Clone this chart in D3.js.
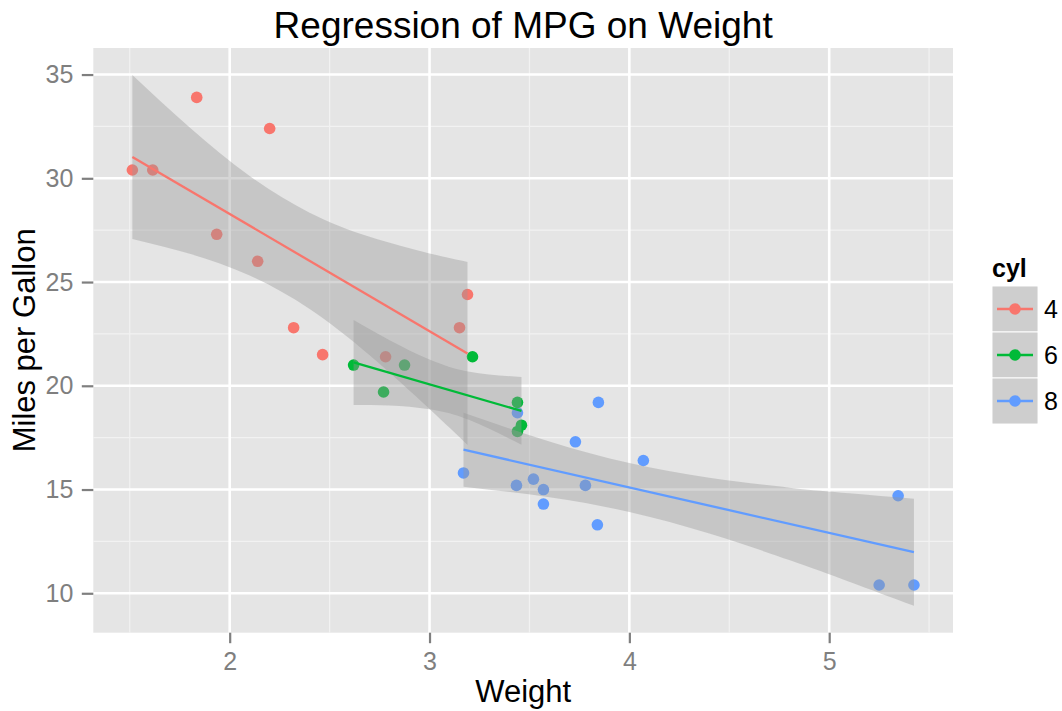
<!DOCTYPE html>
<html>
<head>
<meta charset="utf-8">
<script src="https://cdn.jsdelivr.net/npm/d3@7"></script>
<style>
  body { margin: 0; background: #fff; }
  text { font-family: "Liberation Sans", Arial, Helvetica, sans-serif; }
</style>
</head>
<body>
<div id="main"></div>
<script>
/*********************************************************
 * Data (mtcars: weight, mpg, cylinders)
 *********************************************************/
const wt = [2.620, 2.875, 2.320, 3.215, 3.440, 3.460, 3.570, 3.190, 3.150, 3.440, 3.440,
  4.070, 3.730, 3.780, 5.250, 5.424, 5.345, 2.200, 1.615, 1.835, 2.465, 3.520, 3.435,
  3.840, 3.845, 1.935, 2.140, 1.513, 3.170, 2.770, 3.570, 2.780];
const mpg = [21.0, 21.0, 22.8, 21.4, 18.7, 18.1, 14.3, 24.4, 22.8, 19.2, 17.8,
  16.4, 17.3, 15.2, 10.4, 10.4, 14.7, 32.4, 30.4, 33.9, 21.5, 15.5, 15.2,
  13.3, 19.2, 27.3, 26.0, 30.4, 15.8, 19.7, 15.0, 21.4];
const cyl = ['6', '6', '4', '6', '8', '6', '8', '4', '4', '6', '6',
  '8', '8', '8', '8', '8', '8', '4', '4', '4', '4', '8', '8',
  '8', '8', '4', '4', '4', '8', '6', '8', '4'];

const cylLevels = ['4', '6', '8'];

// fitted lines (ends)
const fitX = [[1.513, 3.19], [2.62, 3.46], [3.17, 5.424]];
const fitY = [[31.03, 21.56], [21.13, 18.79], [16.92, 11.98]];

// confidence ribbons
const bandX = [
  [1.513, 1.8, 2.1, 2.4, 2.7, 3.0, 3.19],
  [2.62, 2.8, 3.0, 3.2, 3.46],
  [3.17, 3.6, 4.0, 4.4, 4.8, 5.1, 5.424]
];
const bandLo = [
  [27.08, 26.36, 25.31, 23.70, 21.47, 18.88, 17.15],
  [19.08, 19.05, 18.87, 18.35, 17.16],
  [15.14, 14.63, 13.92, 12.88, 11.60, 10.56, 9.40]
];
const bandHi = [
  [34.98, 32.45, 30.11, 28.34, 27.18, 26.38, 25.97],
  [23.17, 22.20, 21.27, 20.68, 20.42],
  [18.70, 17.32, 16.28, 15.57, 15.09, 14.82, 14.56]
];

const xTicks = [2, 3, 4, 5];
const xMinor = [1.5, 2.5, 3.5, 4.5, 5.5];
const yTicks = [10, 15, 20, 25, 30, 35];
const yMinor = [12.5, 17.5, 22.5, 27.5, 32.5];

/*********************************************************
 * Layout
 *********************************************************/
const svgWidth = 1062;
const svgHeight = 711;
const panel = { l: 93.3, r: 953, t: 48, b: 632.7 };

const svg = d3.select('#main')
  .append('svg')
  .attr('width', svgWidth)
  .attr('height', svgHeight);

svg.append('rect')
  .attr('width', svgWidth)
  .attr('height', svgHeight)
  .attr('fill', '#fff');

const x = d3.scaleLinear().domain([1.3175, 5.6195]).range([panel.l, panel.r]);
const y = d3.scaleLinear().domain([8.1, 36.28]).range([panel.b, panel.t]);

const color = d3.scaleOrdinal()
  .domain(cylLevels)
  .range(['#F8766D', '#00BA38', '#619CFF']);

// panel background
svg.append('rect')
  .attr('x', panel.l)
  .attr('y', panel.t)
  .attr('width', panel.r - panel.l)
  .attr('height', panel.b - panel.t)
  .attr('fill', '#E5E5E5');

// grid lines
const grid = svg.append('g').attr('class', 'grid');
grid.selectAll('.xminor').data(xMinor).enter().append('line')
  .attr('x1', d => x(d)).attr('x2', d => x(d))
  .attr('y1', panel.t).attr('y2', panel.b)
  .attr('stroke', '#F2F2F2').attr('stroke-width', 1.2);
grid.selectAll('.yminor').data(yMinor).enter().append('line')
  .attr('y1', d => y(d)).attr('y2', d => y(d))
  .attr('x1', panel.l).attr('x2', panel.r)
  .attr('stroke', '#F2F2F2').attr('stroke-width', 1.2);
grid.selectAll('.xmajor').data(xTicks).enter().append('line')
  .attr('x1', d => x(d)).attr('x2', d => x(d))
  .attr('y1', panel.t).attr('y2', panel.b)
  .attr('stroke', '#fff').attr('stroke-width', 2.6);
grid.selectAll('.ymajor').data(yTicks).enter().append('line')
  .attr('y1', d => y(d)).attr('y2', d => y(d))
  .attr('x1', panel.l).attr('x2', panel.r)
  .attr('stroke', '#fff').attr('stroke-width', 2.6);

// points
const points = wt.map((w, i) => ({ wt: w, mpg: mpg[i], cyl: cyl[i] }));
svg.append('g').selectAll('circle')
  .data(points)
  .enter()
  .append('circle')
  .attr('cx', d => x(d.wt))
  .attr('cy', d => y(d.mpg))
  .attr('r', 5.8)
  .attr('fill', d => color(d.cyl));

// smoothers: ribbon + line per group
const area = d3.area()
  .x(d => x(d.x))
  .y0(d => y(d.lo))
  .y1(d => y(d.hi))
  .curve(d3.curveNatural);

const line = d3.line().x(d => x(d[0])).y(d => y(d[1]));

cylLevels.forEach((c, g) => {
  const band = bandX[g].map((bx, i) => ({ x: bx, lo: bandLo[g][i], hi: bandHi[g][i] }));
  svg.append('path')
    .attr('d', area(band))
    .attr('fill', '#999999')
    .attr('fill-opacity', 0.4);
  svg.append('path')
    .attr('d', line([[fitX[g][0], fitY[g][0]], [fitX[g][1], fitY[g][1]]]))
    .attr('stroke', color(c))
    .attr('stroke-width', 2.3)
    .attr('fill', 'none');
});

/*********************************************************
 * Axes
 *********************************************************/
const xAxis = svg.append('g')
  .attr('transform', `translate(0, ${panel.b})`)
  .call(d3.axisBottom(x).tickValues(xTicks).tickSize(10.5).tickPadding(9).tickFormat(d3.format('d')));
const yAxis = svg.append('g')
  .attr('transform', `translate(${panel.l}, 0)`)
  .call(d3.axisLeft(y).tickValues(yTicks).tickSize(11.5).tickPadding(8.5).tickFormat(d3.format('d')));

[xAxis, yAxis].forEach(ax => {
  ax.select('.domain').remove();
  ax.selectAll('line').attr('stroke', '#7F7F7F').attr('stroke-width', 2.2);
  ax.selectAll('text')
    .attr('fill', '#7F7F7F')
    .style('font-size', '25px');
});

// titles
svg.append('text')
  .attr('x', (panel.l + panel.r) / 2)
  .attr('y', 38)
  .attr('text-anchor', 'middle')
  .style('font-size', '37px')
  .attr('fill', '#000')
  .text('Regression of MPG on Weight');

svg.append('text')
  .attr('x', (panel.l + panel.r) / 2)
  .attr('y', 702)
  .attr('text-anchor', 'middle')
  .style('font-size', '31px')
  .attr('fill', '#000')
  .text('Weight');

svg.append('text')
  .attr('transform', `translate(35, ${(panel.t + panel.b) / 2}) rotate(-90)`)
  .attr('text-anchor', 'middle')
  .style('font-size', '31px')
  .attr('fill', '#000')
  .text('Miles per Gallon');

/*********************************************************
 * Legend
 *********************************************************/
const legend = svg.append('g').attr('transform', 'translate(992, 286)');
const keySize = 46;

legend.append('text')
  .attr('x', 0)
  .attr('y', -9)
  .style('font-size', '25px')
  .style('font-weight', 'bold')
  .text('cyl');

const keys = legend.selectAll('.key')
  .data(cylLevels)
  .enter()
  .append('g')
  .attr('class', 'key')
  .attr('transform', (d, i) => `translate(0, ${i * keySize})`);

keys.append('rect')
  .attr('width', keySize)
  .attr('height', keySize)
  .attr('fill', '#F2F2F2')
  .attr('stroke', '#fff')
  .attr('stroke-width', 1);
keys.append('rect')
  .attr('x', 0.5)
  .attr('y', 0.5)
  .attr('width', keySize - 1)
  .attr('height', keySize - 1)
  .attr('fill', '#999999')
  .attr('fill-opacity', 0.4);
keys.append('circle')
  .attr('cx', keySize / 2)
  .attr('cy', keySize / 2)
  .attr('r', 5.8)
  .attr('fill', d => color(d));
keys.append('line')
  .attr('x1', 5)
  .attr('x2', keySize - 5)
  .attr('y1', keySize / 2)
  .attr('y2', keySize / 2)
  .attr('stroke', d => color(d))
  .attr('stroke-width', 2.3);
keys.append('text')
  .attr('x', keySize + 6)
  .attr('y', keySize / 2)
  .attr('dy', '0.36em')
  .style('font-size', '25px')
  .text(d => d);
</script>
</body>
</html>
